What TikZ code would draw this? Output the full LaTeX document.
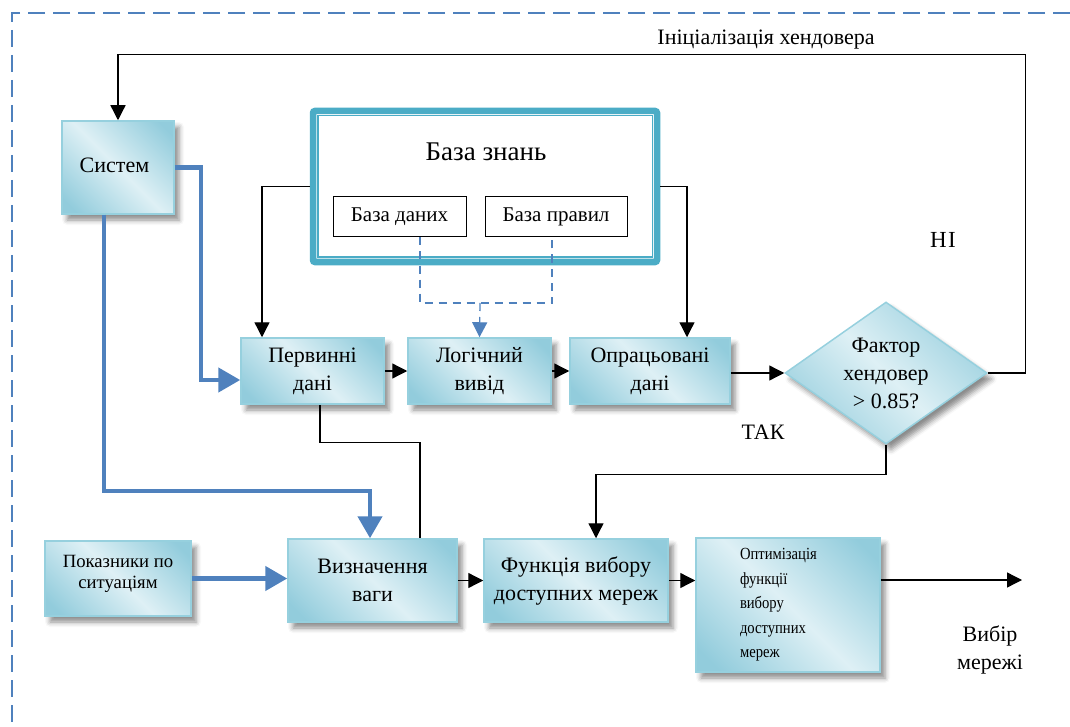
\documentclass[tikz,border=0pt]{standalone}
\usepackage{fontspec}
\setmainfont{Liberation Serif}
\usetikzlibrary{arrows.meta,shapes.geometric,shadows.blur}

\definecolor{boxdk}{RGB}{146,204,220}
\definecolor{boxlt}{RGB}{222,240,245}
\definecolor{boxedge}{RGB}{150,208,222}
\definecolor{flowblue}{RGB}{79,129,189}
\definecolor{kbteal}{RGB}{75,172,198}

% diagonal light/dark banding used to fill the process blocks
\pgfdeclarehorizontalshading{boxshade}{100bp}{color(0bp)=(boxdk); color(20bp)=(boxdk); color(50bp)=(boxlt); color(80bp)=(boxdk); color(100bp)=(boxdk)}

\newfontfamily\narrowserif[FakeStretch=0.86]{Liberation Serif}

\tikzset{
  blk/.style={rectangle, draw=boxedge, line width=1.5pt, shading=boxshade, shading angle=45,
    blur shadow={shadow xshift=5pt, shadow yshift=-6pt, shadow blur radius=5pt, shadow opacity=45},
    align=center, inner sep=0pt, font=\fontsize{22}{28}\selectfont},
  decbox/.style={diamond, draw=boxedge, line width=1.5pt, shading=boxshade, shading angle=45,
    blur shadow={shadow xshift=5pt, shadow yshift=-6pt, shadow blur radius=5pt, shadow opacity=45},
    align=center, inner sep=0pt, aspect=1.42, font=\fontsize{22}{28}\selectfont},
  subbox/.style={rectangle, draw=black, line width=1pt, fill=white, inner sep=0pt,
    font=\fontsize{21}{25}\selectfont},
  lbl/.style={align=center, inner sep=0pt, font=\fontsize{22}{28}\selectfont},
  arr/.style={draw=black, line width=1.3pt, -{Triangle[length=15pt, width=15pt]}},
  plain/.style={draw=black, line width=1.3pt},
  bluearr/.style={draw=flowblue, line width=4.5pt, -{Triangle[length=22pt, width=24pt]}},
  dashblue/.style={draw=flowblue, line width=1.3pt, dash pattern=on 8pt off 6pt},
  frame/.style={draw=flowblue, line width=2.5pt, dash pattern=on 17pt off 8pt},
}

\begin{document}
\begin{tikzpicture}[x=1pt, y=-1pt]
\useasboundingbox (0,0) rectangle (1070,727);

% outer dashed boundary
\draw[frame] (1070,13) -| (12,727);

% knowledge base
\node[rectangle, draw=kbteal, line width=6.5pt, rounded corners=2pt, fill=white,
      minimum width=344pt, minimum height=151pt] (kb) at (485,186.5) {};
\draw[kbteal, line width=1.5pt] ([shift={(8,8)}]kb.north west) rectangle ([shift={(-8,-8)}]kb.south east);
\node[lbl, font=\fontsize{27}{32}\selectfont] (kbtitle) at (486,152) {База знань};
\node[subbox, minimum width=133pt, minimum height=40pt] (db) at (399.5,217) {База даних};
\node[subbox, minimum width=142pt, minimum height=40pt] (rules) at (556,217) {База правил};

% process blocks
\node[blk, minimum width=112pt, minimum height=93pt] (sys) at (118,167.5) {\raisebox{4pt}{Систем}\hspace*{7pt}};
\node[blk, minimum width=143pt, minimum height=66pt] (prim) at (312.5,371) {Первинні\\дані};
\node[blk, minimum width=143pt, minimum height=66pt] (log) at (479.5,371) {Логічний\\вивід};
\node[blk, minimum width=160pt, minimum height=66pt] (proc) at (650,371) {Опрацьовані\\дані};
\node[decbox, minimum width=202pt, minimum height=142pt] (dec) at (886,373) {Фактор\\хендовер\\> 0.85?};
\node[blk, minimum width=146pt, minimum height=75pt, font=\fontsize{18.7}{21}\selectfont] (ind) at (118,578.5) {Показники по\\ситуаціям\\[-7pt]\mbox{}};
\node[blk, minimum width=169pt, minimum height=83pt] (wgt) at (372.5,580.5) {Визначення\\ваги};
\node[blk, minimum width=184pt, minimum height=83pt] (func) at (576,580.5) {Функція вибору\\доступних мереж};
\node[blk, minimum width=184pt, minimum height=134pt, text width=96pt, align=left,
      font=\narrowserif\fontsize{17}{24.5}\selectfont] (opt) at (788,605) {Оптимізація\\функції\\вибору\\доступних\\мереж};

% labels
\node[lbl] (initlbl) at (766,40) {Ініціалізація хендовера};
\node[lbl, font=\fontsize{23}{28}\selectfont] (nolbl) at (943,240) {Н\kern1.5ptІ};
\node[lbl] (yeslbl) at (763,432) {ТАК};
\node[lbl] (outlbl) at (990,650) {Вибір\\мережі};

% black connectors
\draw[arr] (dec.east) -- ++(38,0) |- ([yshift=66pt]sys.north) -- (sys.north);
\draw[arr] (kb.west) -| ([xshift=-50.5pt]prim.north);
\draw[arr] (kb.east) -| ([xshift=37pt]proc.north);
\draw[arr] (prim.east) -- (log.west);
\draw[arr] (log.east) -- (proc.west);
\draw[arr] (proc.east |- dec.west) -- (dec.west);
\draw[arr] (dec.south) -- ++(0,30) -| ([xshift=20pt]func.north);
\draw[plain] ([xshift=7.5pt]prim.south) -- ++(0,38) -| ([xshift=47.5pt]wgt.north);
\draw[arr] (wgt.east) -- (func.west);
\draw[arr] (func.east) -- (opt.west |- func.east);
\coordinate (out) at (1022,580);
\draw[arr] (opt.east |- out) -- (out);

% dashed link from the databases to inference
\coordinate (dj) at (480,303);
\draw[dashblue] ([xshift=20.5pt]db.south) |- (dj) -| ([xshift=-4pt]rules.south);
\draw[dashblue, -{Triangle[length=15pt, width=15pt]}] (dj) -- (log.north);

% thick blue flows
\draw[bluearr] (sys.east) -- ++(26,0) |- ([yshift=-9pt]prim.west);
\draw[bluearr] ([xshift=-14pt]sys.south) -- ++(0,276) -| ([xshift=-2.5pt]wgt.north);
\draw[bluearr] (ind.east) -- (wgt.west |- ind.east);
\end{tikzpicture}
\end{document}
